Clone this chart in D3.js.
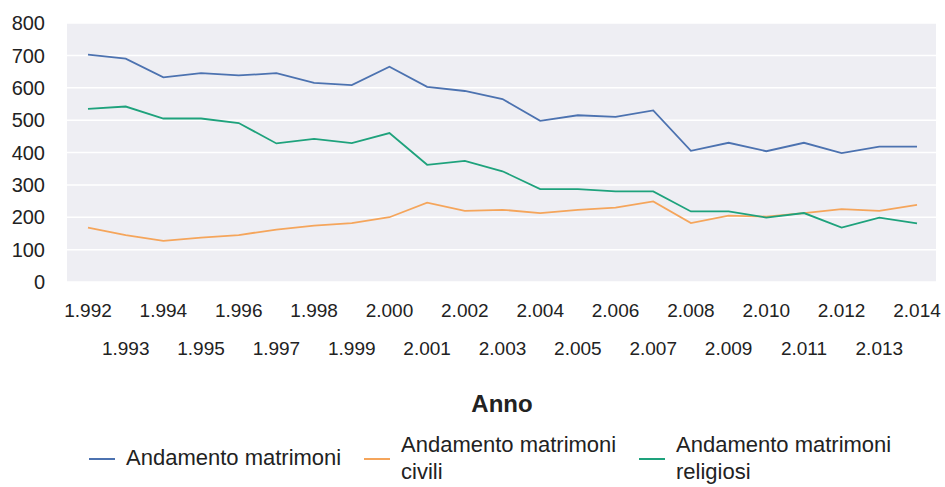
<!DOCTYPE html>
<html>
<head>
<meta charset="utf-8">
<script src="https://cdn.jsdelivr.net/npm/d3@7"></script>
<style>
  body { margin: 0; background: #fff; }
  text { font-family: "Liberation Sans", Arial, sans-serif; fill: #222; }
</style>
</head>
<body>
<div id="chart"></div>
<script>
// data
var years = [1992, 1993, 1994, 1995, 1996, 1997, 1998, 1999, 2000, 2001, 2002,
  2003, 2004, 2005, 2006, 2007, 2008, 2009, 2010, 2011, 2012, 2013, 2014]
var matrimoni = [702, 690, 632, 645, 638, 645, 615, 608, 665, 603, 590,
  565, 498, 515, 510, 530, 405, 430, 404, 430, 398, 418, 418]
var civili = [168, 145, 127, 137, 145, 162, 174, 182, 200, 245, 220,
  223, 213, 223, 230, 249, 182, 205, 202, 213, 225, 220, 238]
var religiosi = [535, 542, 505, 505, 491, 428, 442, 429, 460, 362, 374,
  342, 287, 287, 280, 280, 218, 218, 199, 213, 168, 199, 181]
var yTicks = [0, 100, 200, 300, 400, 500, 600, 700, 800]
var seriesNames = [["Andamento matrimoni"], ["Andamento matrimoni", "civili"], ["Andamento matrimoni", "religiosi"]]
var seriesColors = ["#4c72b0", "#f5a55b", "#1ea27c"]

var width = 945, height = 487
var plot = { left: 67, right: 936, top: 23, bottom: 282 }

var itFormat = d3.formatLocale({ decimal: ",", thousands: ".", grouping: [3], currency: ["€", ""] }).format(",")

var svg = d3.select("#chart").append("svg")
  .attr("width", width)
  .attr("height", height)

var x = d3.scalePoint()
  .domain(years)
  .range([88, 917])

var y = d3.scaleLinear()
  .domain([0, 800])
  .range([plot.bottom, plot.top])

// background + grid
svg.append("rect")
  .attr("x", plot.left)
  .attr("y", plot.top)
  .attr("width", plot.right - plot.left)
  .attr("height", plot.bottom - plot.top)
  .attr("fill", "#eeeef3")

svg.append("g")
  .selectAll("line")
  .data(yTicks)
  .join("line")
  .attr("x1", plot.left)
  .attr("x2", plot.right)
  .attr("y1", d => y(d))
  .attr("y2", d => y(d))
  .attr("stroke", "#fff")
  .attr("stroke-width", 1.5)

// y labels
svg.append("g")
  .selectAll("text")
  .data(yTicks)
  .join("text")
  .attr("x", 45)
  .attr("y", d => y(d))
  .attr("dy", "0.36em")
  .attr("text-anchor", "end")
  .attr("font-size", 20)
  .text(d => d)

// x labels, staggered over two rows
svg.append("g")
  .selectAll("text")
  .data(years)
  .join("text")
  .attr("x", d => x(d))
  .attr("y", (d, i) => i % 2 == 0 ? 317 : 355)
  .attr("text-anchor", "middle")
  .attr("font-size", 19)
  .text(d => itFormat(d))

svg.append("text")
  .attr("x", 502)
  .attr("y", 412)
  .attr("text-anchor", "middle")
  .attr("font-size", 24)
  .attr("font-weight", "bold")
  .text("Anno")

// lines
var line = d3.line()
  .x((d, i) => x(years[i]))
  .y(d => y(d))

var allSeries = [matrimoni, civili, religiosi]

svg.append("g")
  .selectAll("path")
  .data(allSeries)
  .join("path")
  .attr("d", d => line(d))
  .attr("fill", "none")
  .attr("stroke", (d, i) => seriesColors[i])
  .attr("stroke-width", 1.8)

// legend
var legendX = [89, 364, 639]
var legend = svg.append("g")
  .selectAll("g")
  .data(seriesNames)
  .join("g")
  .attr("transform", (d, i) => `translate(${legendX[i]},459)`)

legend.append("line")
  .attr("x1", 0)
  .attr("x2", 26)
  .attr("stroke", (d, i) => seriesColors[i])
  .attr("stroke-width", 2)

legend.each(function (d) {
  var g = d3.select(this)
  var top = d.length == 1 ? 6 : -7
  d.forEach(function (t, j) {
    g.append("text")
      .attr("x", 37)
      .attr("y", top + j * 26.5)
      .attr("font-size", 22)
      .text(t)
  })
})
</script>
</body>
</html>
